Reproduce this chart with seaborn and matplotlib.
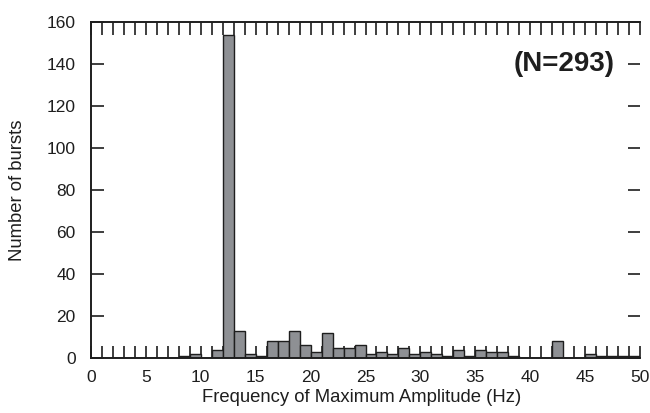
import matplotlib
matplotlib.use("Agg")
import numpy as np
import pandas as pd
import seaborn as sns
import matplotlib.pyplot as plt
from matplotlib.ticker import MultipleLocator

# Data: bin centres (Hz, 1 Hz bins) and burst counts
freq_hz = [8.5, 9.5, 11.5, 12.5, 13.5, 14.5, 15.5, 16.5, 17.5, 18.5,
           19.5, 20.5, 21.5, 22.5, 23.5, 24.5, 25.5, 26.5, 27.5, 28.5,
           29.5, 30.5, 31.5, 32.5, 33.5, 34.5, 35.5, 36.5, 37.5, 38.5,
           42.5, 45.5, 46.5, 47.5, 48.5, 49.5]
counts = [1, 2, 4, 154, 13, 2, 1, 8, 8, 13,
          6, 3, 12, 5, 5, 6, 2, 3, 2, 5,
          2, 3, 2, 1, 4, 1, 4, 3, 3, 1,
          8, 2, 1, 1, 1, 1]
x_ticks = [0, 5, 10, 15, 20, 25, 30, 35, 40, 45, 50]
y_ticks = [0, 20, 40, 60, 80, 100, 120, 140, 160]

df = pd.DataFrame({"freq": freq_hz, "count": counts})

sns.set_style("ticks")
plt.rcParams["font.family"] = ["Liberation Sans", "DejaVu Sans"]

fig = plt.figure(figsize=(6.5, 4.13), dpi=100)
ax = fig.add_axes([91 / 650, 1 - 358 / 413, (640 - 91) / 650, (358 - 22) / 413])

sns.histplot(data=df, x="freq", weights="count", binwidth=1, binrange=(0, 50),
             color="#8e9094", edgecolor="#1e1e1e", linewidth=1.0, alpha=1.0, ax=ax)

ax.set_xlim(0, 50)
ax.set_ylim(0, 160)
ax.set_xticks(x_ticks)
ax.xaxis.set_minor_locator(MultipleLocator(1))
ax.set_yticks(y_ticks)

for s in ["left", "bottom", "top"]:
    ax.spines[s].set_linewidth(1.4)
    ax.spines[s].set_color("#1e1e1e")
ax.spines["right"].set_visible(False)

ax.tick_params(axis="x", which="both", direction="in", top=True, bottom=True,
               length=9, width=1.2, color="#1e1e1e", labelsize=12.5, pad=9,
               labelcolor="#1e1e1e")
ax.tick_params(axis="y", which="both", direction="in", left=True, right=True,
               length=9, width=1.2, color="#1e1e1e", labelsize=12.5, pad=11,
               labelcolor="#1e1e1e")

ax.set_xlabel("Frequency of Maximum Amplitude (Hz)", fontsize=13.3, color="#1e1e1e")
ax.set_ylabel("Number of bursts", fontsize=13.3, color="#1e1e1e")
ax.xaxis.set_label_coords((362 - 91) / 549, (358 - 389) / 336)
ax.yaxis.set_label_coords((26 - 91) / 549, 0.5)

ax.text(0.862, 0.875, "(N=293)", transform=ax.transAxes, fontsize=20,
        fontweight="bold", ha="center", va="center", color="#1e1e1e")

fig.savefig("out.png", dpi=100)
